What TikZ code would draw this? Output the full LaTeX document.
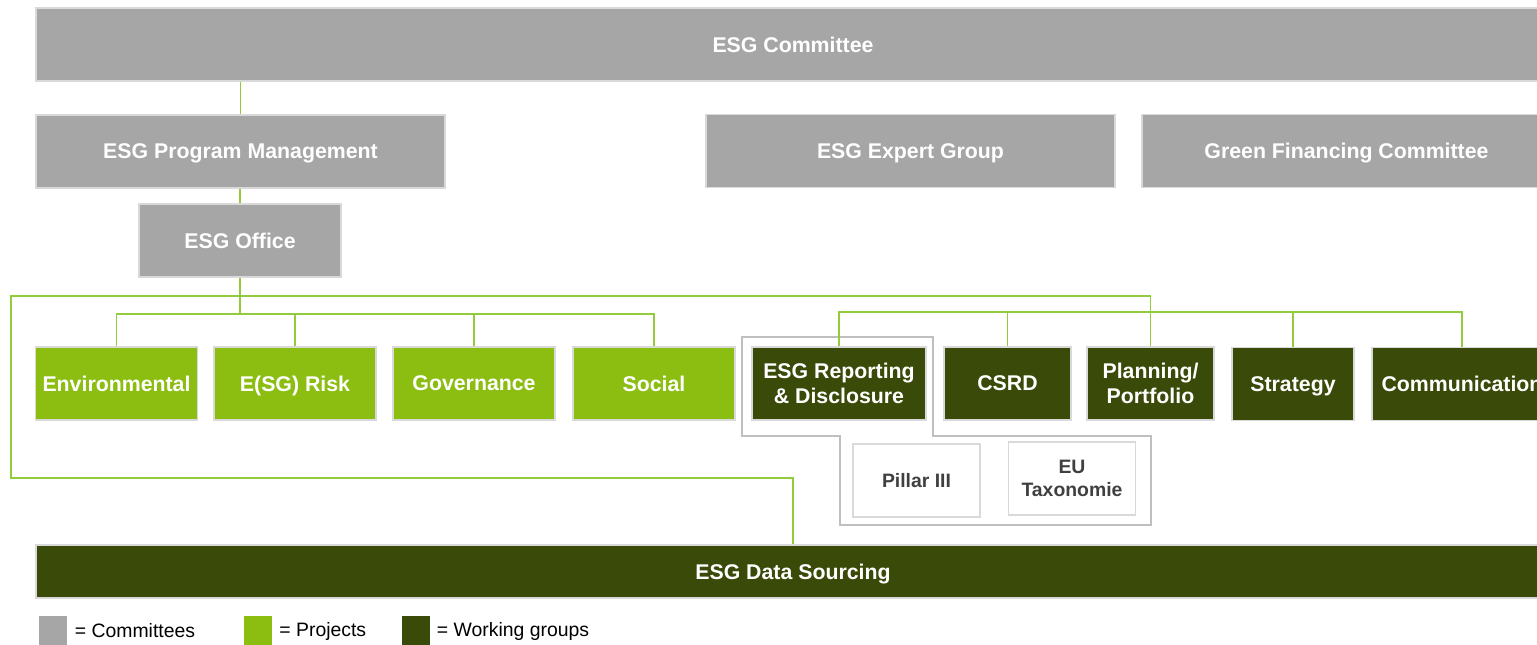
\documentclass[tikz,border=0pt]{standalone}
\usepackage{fontspec}
\setmainfont{Liberation Sans}
\definecolor{cgrey}{RGB}{166,166,166}
\definecolor{pgreen}{RGB}{140,190,18}
\definecolor{wgreen}{RGB}{58,74,8}
\definecolor{lgreen}{RGB}{146,204,60}
\definecolor{grpline}{RGB}{191,191,191}
\definecolor{edge}{RGB}{217,217,217}
\definecolor{subtext}{RGB}{64,64,64}

\begin{document}
\begin{tikzpicture}[x=1pt,y=-1pt,
  box/.style={draw=edge, line width=1.2pt, inner sep=0pt, align=center, text=white,
    font=\fontsize{21.3}{25}\selectfont\bfseries},
  oneline/.style={text depth=0pt},
  cbox/.style={box, oneline, fill=cgrey, minimum height=73pt},
  pbox/.style={box, oneline, fill=pgreen, minimum width=162pt, minimum height=73pt},
  wbox/.style={box, fill=wgreen, minimum height=73pt},
  sbox/.style={box, fill=white, text=subtext, minimum width=127pt, minimum height=73pt,
    font=\fontsize{19.4}{23}\selectfont\bfseries},
  link/.style={lgreen, line width=1.8pt},
  keybox/.style={inner sep=0pt, minimum width=28pt, minimum height=30pt},
  keytxt/.style={right, inner sep=0pt, font=\fontsize{19.4}{22}\selectfont}]
  \useasboundingbox (0,0) rectangle (1537,645);
  \clip (0,0) rectangle (1537,645);

  % committees
  \node[cbox, minimum width=1514pt] (com) at (793,44.5) {ESG Committee};
  \node[cbox, minimum width=409pt] (pm) at (240.5,151.5) {ESG Program Management};
  \node[cbox, minimum width=202pt] (off) at (240,240.5) {ESG Office};
  \node[cbox, minimum width=409pt] (exp) at (910.5,151) {ESG Expert Group};
  \node[cbox, minimum width=409pt] (gfc) at (1346.5,151) {Green Financing Committee};

  % reporting group outline
  \draw[grpline, line width=1.5pt] (742,337) -- (933,337) -- (933,436) -- (1151,436)
    -- (1151,525) -- (840,525) -- (840,436) -- (742,436) -- cycle;

  % projects
  \node[pbox] (env) at (116.5,383.5) {Environmental};
  \node[pbox] (risk) at (295,383.5) {E(SG) Risk};
  \node[pbox] (gov) at (474,383.5) {Governance};
  \node[pbox] (soc) at (654,383.5) {Social};

  % working groups
  \node[wbox, minimum width=174pt] (rep) at (839,383.5) {ESG Reporting\\\& Disclosure};
  \node[wbox, oneline, minimum width=127pt] (csrd) at (1007.5,383.5) {CSRD};
  \node[wbox, minimum width=127pt] (plan) at (1150.5,383.5) {Planning/\\Portfolio};
  \node[wbox, oneline, minimum width=122pt] (strat) at (1293,384) {Strategy};
  \node[wbox, oneline, minimum width=180pt] (comm) at (1462,384) {Communication};
  \node[sbox, oneline] (p3) at (916.5,480.5) {Pillar III};
  \node[sbox] (eut) at (1072,478.5) {EU\\Taxonomie};

  \node[wbox, oneline, minimum width=1514pt, minimum height=53pt] (data) at (793,571.5) {ESG Data Sourcing};

  % connectors
  \coordinate (pbus) at (240,314);
  \coordinate (wbus) at (0,312);
  \coordinate (fnw) at (11,296);
  \coordinate (fsw) at (11,478);
  \draw[link] (com.south -| pm.north) -- (pm.north);
  \draw[link] (pm.south -| off.north) -- (off.north);
  \draw[link] (off.south) -- (pbus);
  \draw[link] (env.north) -- (env.north |- pbus) -- (soc.north |- pbus) -- (soc.north);
  \draw[link] (risk.north) -- (risk.north |- pbus);
  \draw[link] (gov.north) -- (gov.north |- pbus);
  \draw[link] (rep.north) -- (rep.north |- wbus) -- (comm.north |- wbus) -- (comm.north);
  \draw[link] (csrd.north) -- (csrd.north |- wbus);
  \draw[link] (strat.north) -- (strat.north |- wbus);
  \draw[link] (plan.north) |- (fnw) -- (fsw) -| (data.north);

  % legend
  \node[keybox, fill=cgrey] (kc) at (52.5,631) {};
  \node[keytxt] at (kc.east) [xshift=8pt] {= Committees};
  \node[keybox, fill=pgreen] (kp) at (258,631) {};
  \node[keytxt] at (kp.east) [xshift=7pt] {= Projects};
  \node[keybox, fill=wgreen] (kw) at (415.5,631) {};
  \node[keytxt] at (kw.east) [xshift=7pt] {= Working groups};
\end{tikzpicture}
\end{document}
